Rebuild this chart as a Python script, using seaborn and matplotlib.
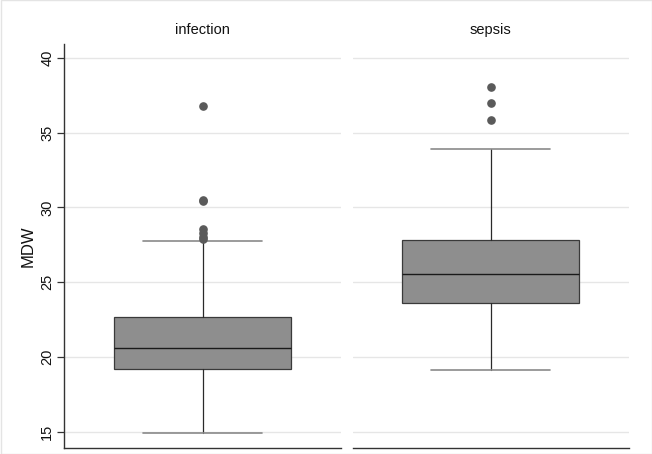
import matplotlib
matplotlib.use("Agg")
import matplotlib.pyplot as plt
import seaborn as sns
import pandas as pd

# ---- data ----
groups = ["infection", "sepsis"]
whislo = [14.9, 19.1]
q1 = [19.2, 23.6]
median = [20.6, 25.55]
q3 = [22.65, 27.8]
whishi = [27.75, 33.9]
outliers_infection = [36.75, 30.5, 30.45, 28.55, 28.3, 28.05, 27.9]
outliers_sepsis = [38.05, 36.95, 35.85]
outliers = [outliers_infection, outliers_sepsis]
yticks = [15, 20, 25, 30, 35, 40]

sns.set_theme(style="white")
plt.rcParams["font.family"] = ["Liberation Sans", "DejaVu Sans"]

df = pd.DataFrame({"group": groups, "whislo": whislo, "q1": q1, "med": median,
                   "q3": q3, "whishi": whishi, "fliers": outliers})

g = sns.FacetGrid(df, col="group", col_order=groups, sharey=True, height=4.54, aspect=0.72)
fig = g.figure
fig.set_size_inches(6.52, 4.54)
fig.set_dpi(100)


def draw_box(data, **kws):
    ax = plt.gca()
    row = data.iloc[0]
    stats = [dict(whislo=row["whislo"], q1=row["q1"], med=row["med"], q3=row["q3"],
                  whishi=row["whishi"], fliers=row["fliers"], label=row["group"])]
    ax.bxp(stats, positions=[0], widths=0.64, capwidths=0.43, patch_artist=True,
           boxprops=dict(facecolor="#8e8e8e", edgecolor="#3a3a3a", linewidth=0.9),
           medianprops=dict(color="#1a1a1a", linewidth=1.0),
           whiskerprops=dict(color="#2a2a2a", linewidth=0.9),
           capprops=dict(color="#8a8a8a", linewidth=1.2),
           flierprops=dict(marker="o", markersize=5.2, markerfacecolor="#5a5a5a",
                           markeredgecolor="#5a5a5a"),
           zorder=3)


g.map_dataframe(draw_box)

W, H = 652.0, 454.0
bottom = 1 - 447.7 / H
top = 1 - 44 / H
positions = [(64 / W, 341 / W), (352.7 / W, 629 / W)]
for ax, name, (x0, x1) in zip(g.axes.flat, groups, positions):
    ax.set_position([x0, bottom, x1 - x0, top - bottom])
    ax.set_xlim(-0.5, 0.5)
    ax.set_ylim(13.93, 40.92)
    ax.set_xticks([])
    ax.set_xlabel("")
    ax.set_yticks(yticks)
    ax.grid(axis="y", color="#e6e6e6", linewidth=1.0, zorder=0)
    ax.set_axisbelow(True)
    ax.set_title(name, fontsize=10.5, color="#111111", pad=7)
    for s in ["top", "right"]:
        ax.spines[s].set_visible(False)
    ax.spines["bottom"].set_color("#333333")
    ax.spines["bottom"].set_linewidth(1.0)

ax0, ax1 = g.axes.flat
ax0.spines["left"].set_color("#333333")
ax0.spines["left"].set_linewidth(1.0)
ax0.tick_params(axis="y", left=True, length=5, width=0.9, color="#333333",
                labelsize=10.5, labelcolor="#111111", pad=2)
for lab in ax0.get_yticklabels():
    lab.set_rotation(90)
    lab.set_va("center")
ax0.set_ylabel("MDW", fontsize=12, color="#111111", labelpad=3)
ax1.spines["left"].set_visible(False)
ax1.tick_params(axis="y", left=False, labelleft=False)
ax1.set_ylabel("")

fig.patches.append(plt.Rectangle((0.0008, 0.001), 0.9985, 0.998, transform=fig.transFigure,
                                 fill=False, edgecolor="#e4e4e4", linewidth=1.0))

fig.savefig("out.png", dpi=100)
